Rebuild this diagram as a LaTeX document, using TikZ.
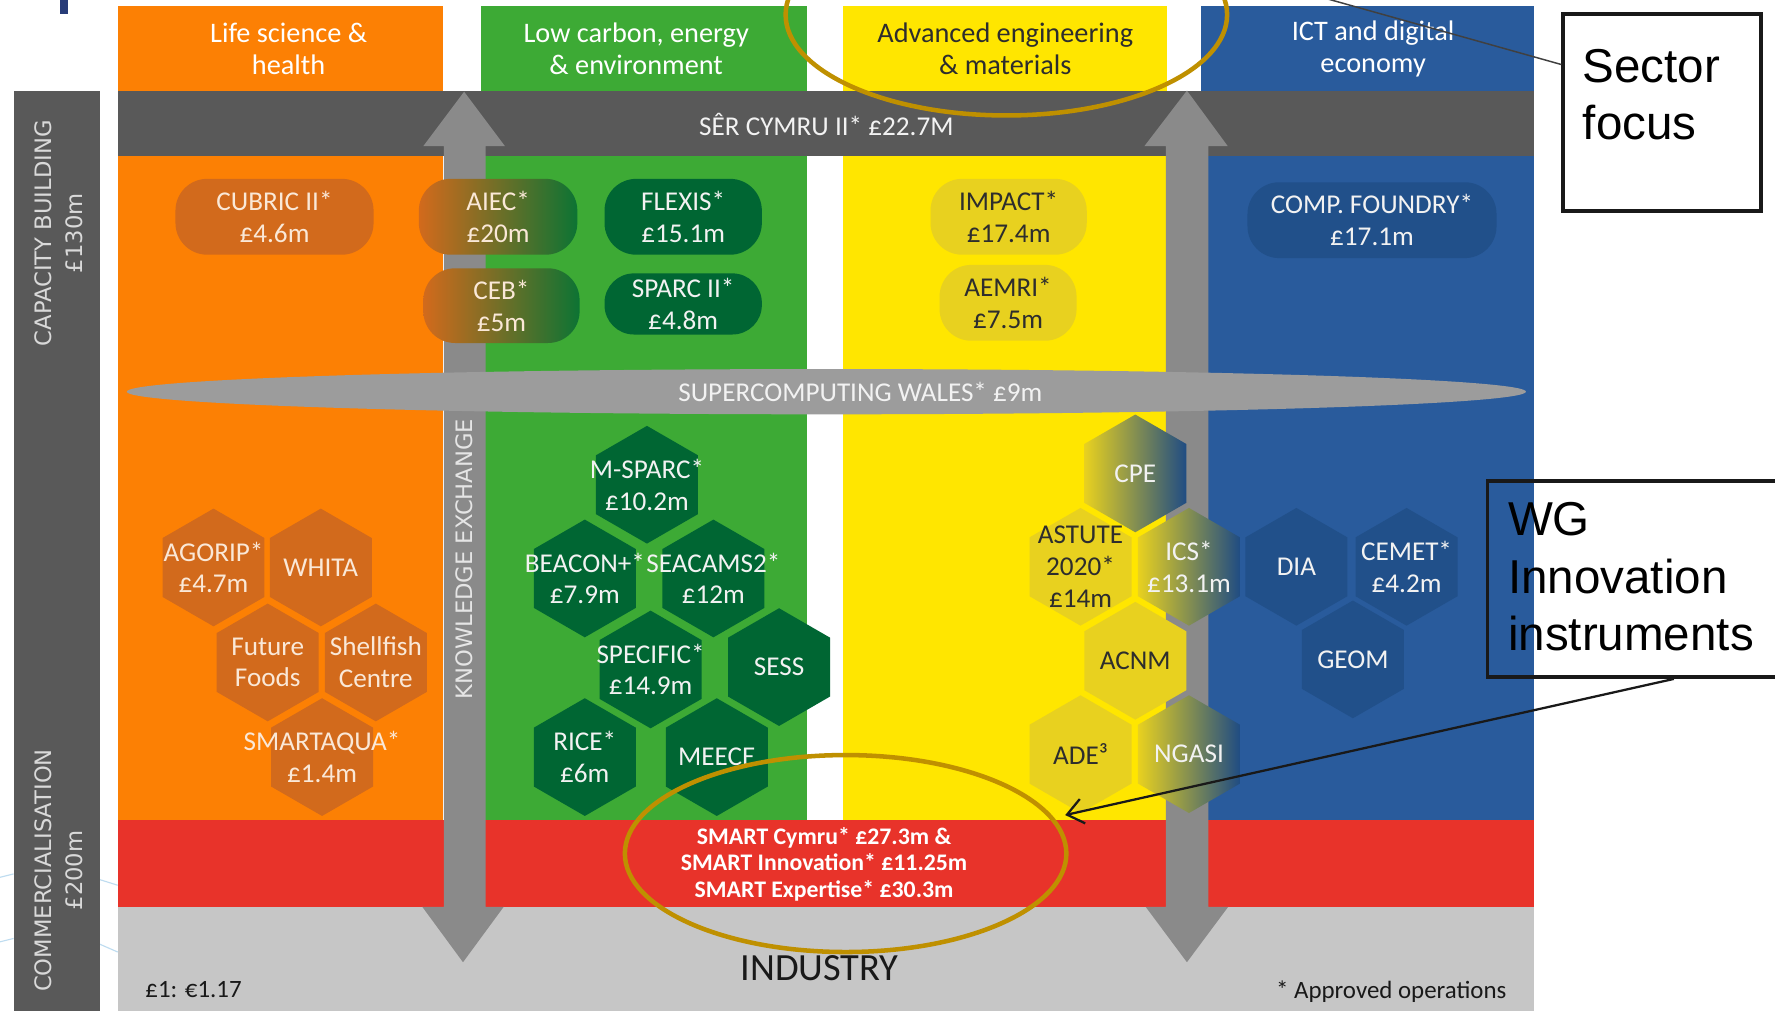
\documentclass[tikz,border=0pt]{standalone}
\usepackage{fontspec}
\setmainfont{Carlito}
\newfontfamily\vfont{DejaVu Sans}
\newfontfamily\afont{Liberation Sans}
\usetikzlibrary{shapes.geometric,arrows.meta}
\definecolor{corange}{RGB}{252,128,4}
\definecolor{cgreen}{RGB}{61,170,53}
\definecolor{cyellow}{RGB}{255,230,0}
\definecolor{cblue}{RGB}{41,91,156}
\definecolor{cdark}{RGB}{89,89,89}
\definecolor{carrow}{RGB}{138,138,138}
\definecolor{cell}{RGB}{156,156,156}
\definecolor{cred}{RGB}{232,51,42}
\definecolor{cind}{RGB}{198,198,198}
\definecolor{ohex}{RGB}{210,106,28}
\definecolor{ghex}{RGB}{0,102,51}
\definecolor{yhex}{RGB}{232,209,31}
\definecolor{bhex}{RGB}{33,80,138}
\definecolor{gold}{RGB}{191,144,0}
\definecolor{otext}{RGB}{250,232,215}
\definecolor{ltext}{RGB}{242,242,242}
\definecolor{dtext}{RGB}{45,45,45}
\definecolor{faint}{RGB}{190,220,240}
\definecolor{navy}{RGB}{40,60,120}
\newcommand\boxfont{\fontsize{24}{28}\selectfont}
\newcommand\hexcell[5]{%
  \node[hexa,#3] (#1) at (#2) {};
  \node[#4] (#1-t) at (#1) {#5};}
\begin{document}
\begin{tikzpicture}[x=1pt,y=-1pt,
  rbox/.style={rounded corners=28pt, inner sep=0pt, align=center, font=\boxfont},
  hexa/.style={regular polygon, regular polygon sides=6, shape border rotate=30,
    minimum size=104pt, inner sep=0pt},
  ho/.style={fill=ohex}, hg/.style={fill=ghex}, hy/.style={fill=yhex}, hb/.style={fill=bhex},
  hyb/.style={left color=yhex, right color=bhex!95!black},
  to/.style={align=center, font=\boxfont, text=otext},
  tw/.style={align=center, font=\boxfont, text=ltext},
  td/.style={align=center, font=\boxfont, text=dtext},
  head/.style={align=center, font=\fontsize{25}{28}\selectfont},
  side/.style={rotate=90, align=center, font=\vfont\fontsize{20}{28}\selectfont, text=black!15},
  ring/.style={ellipse, draw=gold, line width=4pt, inner sep=0pt},
  callout/.style={draw=black!90, line width=3.5pt, inner sep=0pt},
  calltext/.style={align=left, inner sep=0pt, anchor=north west, font=\afont\fontsize{42}{51}\selectfont}
]
\clip (0,0) rectangle (1568,893);
\fill[white] (0,0) rectangle (1568,893);
% faint background marks
\fill[navy] (53,0) rectangle (60,12);
\draw[faint, line width=1pt] (0,775) -- (12,772) (0,832) -- (12,829) (88,777) -- (104,782) (88,834) -- (104,841);
% columns
\fill[corange] (104,5) rectangle (391.5,724);
\fill[cgreen] (425,5) rectangle (713,724);
\fill[cyellow] (745,5) rectangle (1031,724);
\fill[cblue] (1061,5) rectangle (1355,724);
% bands
\fill[cdark] (104,80) rectangle (1355,138);
\fill[cdark] (12,80) rectangle (88,893);
\fill[cred] (104,724) rectangle (1355,801);
\fill[cind] (104,801) rectangle (1355,893);
% double arrows
\fill[carrow] (410,81) -- (446,129) -- (429,129) -- (429,801) -- (445,801) -- (409,850) -- (373,801) -- (392,801) -- (392,129) -- (374,129) -- cycle;
\fill[carrow] (1048.5,80) -- (1084.5,129) -- (1067.5,129) -- (1067.5,801) -- (1085,801) -- (1048.5,850) -- (1012,801) -- (1030,801) -- (1030,129) -- (1011,129) -- cycle;
% headers
\node[head, text=white] (h1) at (255,43) {Life science \&\\health};
\node[head, text=white] (h2) at (562,43) {Low carbon, energy\\\& environment};
\node[head, text=dtext] (h3) at (888,43) {Advanced engineering\\\& materials};
\node[head, text=white] (h4) at (1213,43) {ICT and digital\\economy};
\node[font=\boxfont, text=ltext] (ser) at (730,110) {SÊR CYMRU II* £22.7M};
% side labels
\node[side] (capb) at (52,206) {CAPACITY BUILDING\\£130m};
\node[side] (comm) at (52,769) {COMMERCIALISATION\\£200m};
\node[side, text=black!10] (kex) at (410,494) {KNOWLEDGE EXCHANGE};
% supercomputing
\node[ellipse, fill=cell, minimum width=1236pt, minimum height=40pt, inner sep=0pt] (sc) at (730,346) {};
\node[font=\boxfont, text=ltext] (sc-t) at (760,346) {SUPERCOMPUTING WALES* £9m};
% rounded boxes
\node[rbox, fill=ohex, text=otext, minimum width=175pt, minimum height=67pt] (cubric) at (242.5,191.5) {CUBRIC II*\\£4.6m};
\node[rbox, left color=ohex, right color=ghex!80!cgreen, text=otext, minimum width=140pt, minimum height=67pt] (aiec) at (440,191.5) {AIEC*\\£20m};
\node[rbox, left color=ohex, right color=ghex!80!cgreen, text=otext, minimum width=138pt, minimum height=66pt] (ceb) at (443,270) {CEB*\\£5m};
\node[rbox, fill=ghex, text=ltext, minimum width=139pt, minimum height=67pt] (flexis) at (603.5,191.5) {FLEXIS*\\£15.1m};
\node[rbox, fill=ghex, text=ltext, rounded corners=26pt, minimum width=139pt, minimum height=54pt] (sparc) at (603.5,268.5) {SPARC II*\\£4.8m};
\node[rbox, fill=yhex, text=dtext, minimum width=138pt, minimum height=67pt] (impact) at (891,191.5) {IMPACT*\\£17.4m};
\node[rbox, fill=yhex, text=dtext, minimum width=121pt, minimum height=67pt] (aemri) at (890.5,267.5) {AEMRI*\\£7.5m};
\node[rbox, fill=bhex, text=ltext, minimum width=220pt, minimum height=67pt] (comp) at (1212,194.5) {COMP. FOUNDRY*\\£17.1m};
% hexagons: orange
\hexcell{agorip}{188.6,501.3}{ho}{to}{AGORIP*\\£4.7m}
\hexcell{whita}{283.4,501.3}{ho}{to}{WHITA}
\hexcell{ffoods}{236.5,585.2}{ho}{to}{Future\\Foods}
\hexcell{shell}{332,585.2}{ho}{to}{Shellfish\\Centre}
\hexcell{saqua}{284.5,668.8}{ho}{to}{SMARTAQUA*\\£1.4m}
% hexagons: green
\hexcell{msparc}{571.5,428.2}{hg}{tw}{M-SPARC*\\£10.2m}
\hexcell{beacon}{516.6,511}{hg}{tw}{BEACON+*\\£7.9m}
\hexcell{seacams}{630.2,511}{hg}{tw}{SEACAMS2*\\£12m}
\hexcell{specific}{574.7,591.4}{hg}{tw}{SPECIFIC*\\£14.9m}
\hexcell{sess}{688.2,589.3}{hg}{tw}{SESS}
\hexcell{rice}{516.6,668.8}{hg}{tw}{RICE*\\£6m}
\hexcell{meece}{633.2,668.8}{hg}{tw}{MEECE}
% hexagons: yellow / blue
\hexcell{cpe}{1002.9,418.2}{hyb}{tw}{CPE}
\hexcell{astute}{954.5,500.7}{hy}{td}{ASTUTE\\2020*\\£14m}
\hexcell{ics}{1050.3,500.7}{hyb}{tw}{ICS*\\£13.1m}
\hexcell{dia}{1145.2,500.7}{hb}{tw}{DIA}
\hexcell{cemet}{1242.5,500.7}{hb}{tw}{CEMET*\\£4.2m}
\hexcell{acnm}{1002.9,583.7}{hy}{td}{ACNM}
\hexcell{geom}{1195.1,582.5}{hb}{tw}{GEOM}
\hexcell{ade}{954.5,666.2}{hy}{td}{ADE³}
\hexcell{ngasi}{1050.3,666.2}{hyb}{tw}{NGASI}
% bottom texts
\node[align=center, font=\bfseries\fontsize{21}{23.5}\selectfont, text=white] (smart) at (728,763.5) {SMART Cymru* £27.3m \&\\SMART Innovation* £11.25m\\SMART Expertise* £30.3m};
\node[font=\fontsize{34}{36}\selectfont, text=black!90] (industry) at (724,855) {INDUSTRY};
\node[font=\fontsize{22}{24}\selectfont, text=black!90] (rate) at (171,874) {£1: €1.17};
\node[font=\fontsize{22}{24}\selectfont, text=black!90] (approved) at (1229,876) {* Approved operations};
% gold rings
\node[ring, minimum width=390pt, minimum height=178pt] (ring1) at (889,13) {};
\node[ring, minimum width=390pt, minimum height=174pt] (ring2) at (747,754) {};
% callouts
\node[callout, minimum width=175pt, minimum height=174.5pt] (sf) at (1468.5,99.5) {};
\node[calltext] (sf-t) at (1398,43) {Sector\\focus};
\coordinate (sfend) at (1144,-9);
\draw[black!75, line width=1.3pt] ([yshift=42.5pt]sf.west) -- (sfend);
\node[callout, minimum width=286pt, minimum height=173pt] (wg) at (1457,511.5) {};
\node[calltext] (wg-t) at (1332,443.5) {WG\\Innovation\\instruments};
\coordinate (wgtip) at (941,720);
\draw[black!90, line width=2pt, -{Straight Barb[length=14pt,width=22pt,line width=2pt]}] ([xshift=21.6pt]wg.south) -- (wgtip);
\end{tikzpicture}
\end{document}
